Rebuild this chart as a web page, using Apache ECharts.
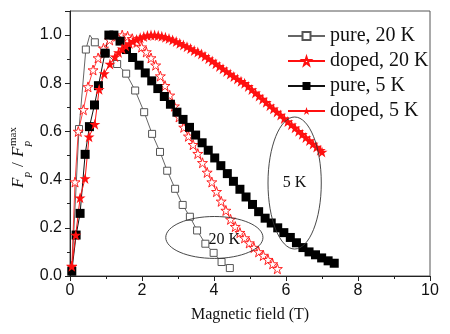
<!DOCTYPE html>
<html>
<head>
<meta charset="utf-8">
<script src="https://cdn.jsdelivr.net/npm/echarts@6/dist/echarts.min.js"></script>
<style>
html, body { margin: 0; padding: 0; background: #fff; }
#chart { width: 450px; height: 334px; }
</style>
</head>
<body>
<div id="chart"></div>
<script>
// Normalised pinning force F_p / F_p^max versus applied field (T)
const seriesNames = ['pure, 20 K', 'doped, 20 K', 'pure, 5 K', 'doped, 5 K'];

const pure20K = [
  [0.05, 0.02], [0.25, 0.61], [0.44, 0.94], [0.55, 1.00], [0.69, 0.97], [1.00, 0.925],
  [1.31, 0.88], [1.56, 0.84], [1.81, 0.77], [2.06, 0.68], [2.28, 0.59], [2.50, 0.515],
  [2.70, 0.437], [2.92, 0.362], [3.13, 0.295], [3.33, 0.246], [3.53, 0.189], [3.76, 0.134],
  [3.99, 0.096], [4.21, 0.058], [4.44, 0.033]
];
// index of the pure 20 K point drawn without a marker
const pure20KBareIndex = 3;

const doped20K = [
  [0.05, 0.04], [0.14, 0.39], [0.23, 0.60], [0.37, 0.69], [0.50, 0.785], [0.64, 0.855],
  [0.78, 0.905], [0.93, 0.945], [1.10, 0.98], [1.30, 0.995], [1.45, 1.00], [1.60, 0.995],
  [1.73, 0.985], [1.86, 0.97], [1.99, 0.95], [2.12, 0.93], [2.25, 0.905], [2.38, 0.875],
  [2.51, 0.83], [2.64, 0.79], [2.77, 0.75], [2.90, 0.705], [3.03, 0.66], [3.16, 0.617],
  [3.29, 0.58], [3.42, 0.545], [3.55, 0.508], [3.68, 0.47], [3.81, 0.43], [3.94, 0.39],
  [4.07, 0.35], [4.20, 0.31], [4.33, 0.272], [4.46, 0.235], [4.59, 0.205], [4.72, 0.18],
  [4.85, 0.158], [4.98, 0.137], [5.11, 0.118], [5.24, 0.10], [5.37, 0.085], [5.50, 0.068],
  [5.63, 0.05], [5.76, 0.03]
];

const pure5K = [
  [0.05, 0.02], [0.17, 0.17], [0.28, 0.26], [0.42, 0.505], [0.54, 0.62], [0.68, 0.71],
  [0.79, 0.79], [0.97, 0.925], [1.08, 1.00], [1.22, 1.00], [1.39, 0.975], [1.57, 0.94],
  [1.74, 0.907], [1.92, 0.875], [2.09, 0.843], [2.27, 0.81], [2.44, 0.778], [2.62, 0.745],
  [2.79, 0.713], [2.97, 0.68], [3.14, 0.65], [3.32, 0.617], [3.49, 0.585], [3.67, 0.553],
  [3.84, 0.522], [4.02, 0.49], [4.19, 0.458], [4.37, 0.425], [4.54, 0.393], [4.72, 0.36],
  [4.89, 0.328], [5.07, 0.297], [5.24, 0.267], [5.42, 0.24], [5.59, 0.22], [5.77, 0.20],
  [5.94, 0.18], [6.12, 0.16], [6.29, 0.138], [6.47, 0.118], [6.64, 0.10], [6.82, 0.088],
  [6.99, 0.075], [7.17, 0.063], [7.34, 0.053]
];

const doped5K = [
  [0.05, 0.04], [0.16, 0.17], [0.28, 0.325], [0.42, 0.405], [0.53, 0.578], [0.69, 0.63],
  [0.81, 0.775], [0.95, 0.84], [1.11, 0.88], [1.25, 0.91], [1.35, 0.928], [1.45, 0.943],
  [1.55, 0.955], [1.65, 0.965], [1.75, 0.974], [1.85, 0.982], [1.95, 0.989], [2.05, 0.994],
  [2.15, 0.998], [2.25, 1.00], [2.35, 1.00], [2.45, 0.998], [2.55, 0.995], [2.65, 0.991],
  [2.75, 0.986], [2.85, 0.98], [2.95, 0.973], [3.05, 0.966], [3.15, 0.959], [3.25, 0.952],
  [3.35, 0.944], [3.45, 0.936], [3.55, 0.93], [3.65, 0.922], [3.75, 0.912], [3.85, 0.902],
  [3.95, 0.892], [4.05, 0.881], [4.15, 0.87], [4.25, 0.86], [4.35, 0.849], [4.45, 0.838],
  [4.55, 0.828], [4.65, 0.818], [4.75, 0.808], [4.85, 0.80], [4.95, 0.787], [5.05, 0.774],
  [5.15, 0.76], [5.25, 0.747], [5.35, 0.734], [5.45, 0.721], [5.55, 0.707], [5.65, 0.694],
  [5.75, 0.681], [5.85, 0.668], [5.95, 0.654], [6.05, 0.641], [6.15, 0.628], [6.25, 0.615],
  [6.35, 0.601], [6.45, 0.588], [6.55, 0.575], [6.65, 0.562], [6.75, 0.548], [6.85, 0.535],
  [6.95, 0.522], [7.00, 0.515]
];

// Encircled groups of curves: [centre field, centre value, half width (T), half height]
const ring20K = { label: '20 K', cx: 4.01, cy: 0.16, rx: 1.35, ry: 0.087 };
const ring5K = { label: '5 K', cx: 6.24, cy: 0.386, rx: 0.74, ry: 0.274 };

const STAR = 'path://M50,0 L61.8,35.1 L98.9,35.1 L69.1,56.7 L80.3,91.9 L50,70 L19.7,91.9 L30.9,56.7 L1.1,35.1 L38.2,35.1 Z';
const RED = '#ff1010';
const SANS = '"Liberation Sans", Arial, sans-serif';
const SERIF = '"Liberation Serif", "Times New Roman", serif';

const chart = echarts.init(document.getElementById('chart'), null, { renderer: 'canvas' });

chart.setOption({
  animation: false,
  backgroundColor: '#fff',
  grid: { left: 70, right: 20, top: 11, bottom: 58, show: true, borderColor: '#555', borderWidth: 1 },
  legend: {
    orient: 'vertical',
    left: 282,
    top: 21,
    itemWidth: 37,
    itemHeight: 10,
    itemGap: 5,
    data: seriesNames,
    textStyle: { fontFamily: SERIF, fontSize: 20, lineHeight: 20, color: '#111' }
  },
  xAxis: {
    type: 'value',
    min: 0, max: 10, interval: 2,
    name: 'Magnetic field (T)',
    nameLocation: 'middle',
    nameGap: 31,
    nameTextStyle: { fontFamily: SERIF, fontSize: 16, color: '#111' },
    axisLine: { lineStyle: { color: '#222', width: 1 } },
    axisTick: { show: true, inside: false, length: 5, lineStyle: { color: '#222' } },
    minorTick: { show: true, splitNumber: 2, length: 3, lineStyle: { color: '#222' } },
    axisLabel: { margin: 7, fontFamily: SANS, fontSize: 16, color: '#111' },
    splitLine: { show: false }
  },
  yAxis: {
    type: 'value',
    min: 0, max: 1.1, interval: 0.2,
    axisLine: { show: true, lineStyle: { color: '#222', width: 1 } },
    axisTick: { show: true, inside: false, length: 5, lineStyle: { color: '#222' } },
    minorTick: { show: true, splitNumber: 2, length: 3, lineStyle: { color: '#222' } },
    axisLabel: {
      margin: 8, fontFamily: SANS, fontSize: 16, color: '#111',
      showMaxLabel: false,
      formatter: v => v.toFixed(1)
    },
    splitLine: { show: false }
  },
  series: [
    {
      name: seriesNames[0], type: 'line',
      data: pure20K.map((p, i) => i === pure20KBareIndex ? { value: p, symbol: 'none' } : p),
      symbol: 'rect', symbolSize: 7,
      lineStyle: { color: '#666', width: 1 },
      itemStyle: { color: '#fff', borderColor: '#555', borderWidth: 1 }
    },
    {
      name: seriesNames[1], type: 'line', data: doped20K,
      symbol: STAR, symbolSize: 10,
      lineStyle: { color: RED, width: 0.8 },
      itemStyle: { color: '#fff', borderColor: RED, borderWidth: 0.9 }
    },
    {
      name: seriesNames[2], type: 'line', data: pure5K,
      symbol: 'rect', symbolSize: 9,
      lineStyle: { color: '#111', width: 1 },
      itemStyle: { color: '#000', borderColor: '#000', borderWidth: 0 }
    },
    {
      name: seriesNames[3], type: 'line', data: doped5K,
      symbol: STAR, symbolSize: 11,
      lineStyle: { color: RED, width: 1 },
      itemStyle: { color: RED, borderWidth: 0 }
    }
  ]
});

// Axis title F_p / F_p^max, written upward along the left edge
function yTitle(x, y) {
  const big = 'italic 17px ' + SERIF;
  const small = 'italic 10px ' + SERIF;
  const t = (text, lx, ly, font) => ({
    type: 'text', x: lx, y: ly,
    style: { text, font, fill: '#111', align: 'left', verticalAlign: 'bottom',
             textAlign: 'left', textVerticalAlign: 'bottom' }
  });
  return {
    type: 'group', x, y, rotation: Math.PI / 2,
    children: [
      t('F', 0, 0, big),
      t('P', 10, 7, small),
      t('/', 21, 0, '17px ' + SERIF),
      t('F', 31, 0, big),
      t('P', 41, 7, small),
      t('max', 42, -8, '11px ' + SERIF)
    ]
  };
}

function ring(r) {
  const c = chart.convertToPixel({ gridIndex: 0 }, [r.cx, r.cy]);
  const e = chart.convertToPixel({ gridIndex: 0 }, [r.cx + r.rx, r.cy + r.ry]);
  return [
    {
      type: 'ellipse',
      shape: { cx: c[0], cy: c[1], rx: Math.abs(e[0] - c[0]), ry: Math.abs(e[1] - c[1]) },
      style: { fill: 'none', stroke: '#333', lineWidth: 0.9 },
      z: 10
    },
    {
      type: 'text', x: c[0], y: c[1],
      style: { text: r.label, font: '16px ' + SERIF, fill: '#111',
               align: 'center', verticalAlign: 'middle', textAlign: 'center', textVerticalAlign: 'middle' },
      z: 11
    }
  ];
}

const ring20 = ring(ring20K);
const ring5 = ring(ring5K);
// the 20 K label sits a little right of and below its ring's centre
ring20[1].x += 10;
ring20[1].y += 2;

chart.setOption({
  graphic: [yTitle(27, 188)].concat(ring20, ring5)
});
</script>
</body>
</html>
